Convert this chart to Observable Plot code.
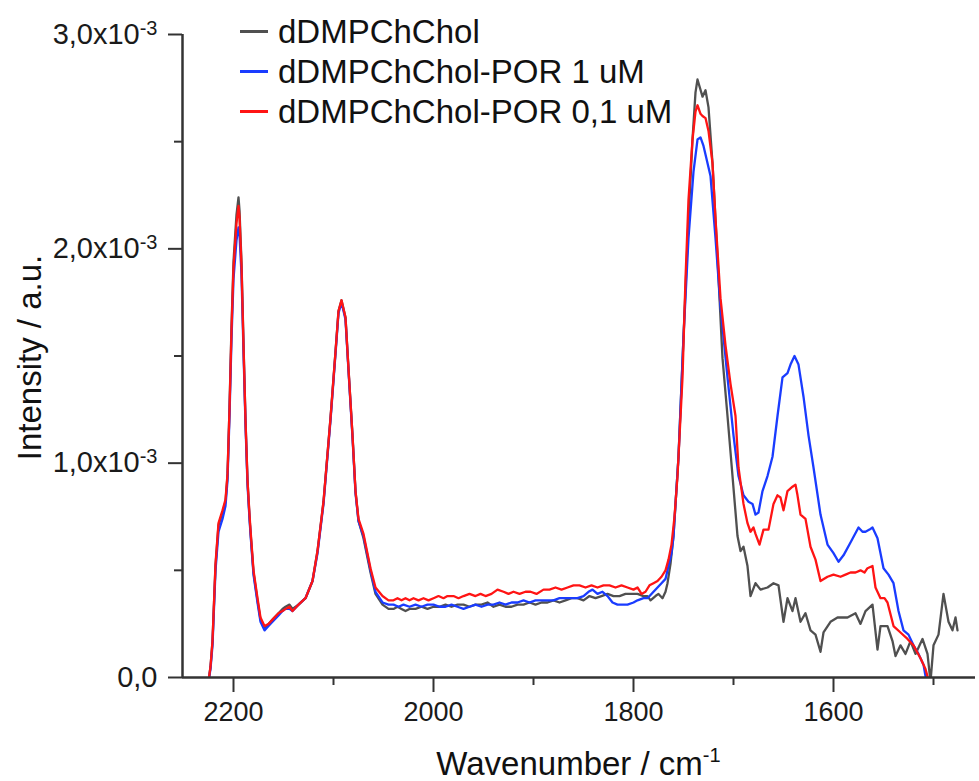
<!DOCTYPE html>
<html>
<head>
<meta charset="utf-8">
<script src="https://cdn.jsdelivr.net/npm/d3@7"></script>
<script src="https://cdn.jsdelivr.net/npm/@observablehq/plot@0.6"></script>
<style>
  body { margin: 0; background: #fff; font-family: "Liberation Sans", Arial, sans-serif; }
  #wrap { position: relative; width: 979px; height: 781px; overflow: hidden; }
  .lab { position: absolute; color: #111; white-space: nowrap; font-size: 33px; line-height: 33px; }
  .key { position: absolute; height: 2.5px; width: 28px; }
</style>
</head>
<body>
<div id="wrap"></div>
<script>
// ---------- data (intensity in units of 10^-3 a.u.) ----------
const seriesNames = ["dDMPChChol", "dDMPChChol-POR 1 uM", "dDMPChChol-POR 0,1 uM"];
const seriesColors = ["#505050", "#1a3cff", "#ff1414"];

const wnGray = [2226,2223,2221,2218,2215,2211,2208,2206,2204,2202,2200,2197,2195,2194,2192,2190,2188,2186,2184,2183,2180,2176,2173,2169,2165,2161,2155,2151,2148,2144,2141,2135,2128,2121,2116,2110,2103,2098,2095,2092,2088,2085,2081,2078,2075,2070,2063,2058,2051,2045,
  2040,2036,2032,2028,2024,2018,2012,2006,2000,1994,1988,1982,1976,1970,1964,1958,1952,1946,1940,1934,1928,1922,1916,1910,1904,1898,1892,1886,1880,1874,1868,1862,1856,1850,1844,1838,1832,1826,1820,1814,1808,1802,1796,1790,1786,1783,1778,1775,1771,1768,1766,1763,1760,
  1755,1750,1745,1741,1738,1736,1731,1728,1725,1721,1716,1711,1706,1701,1696,1693,1690,1686,1683,1678,1673,1666,1660,1655,1650,1646,1641,1638,1633,1628,1623,1618,1613,1610,1603,1596,1586,1578,1573,1568,1561,1556,1553,1546,1541,1538,1533,1528,1523,1518,1511,1506,1503,1500,1495,1490,1485,1481,1478,1476];
const intGray = [-0.05,0.05,0.17,0.52,0.71,0.77,0.82,0.94,1.26,1.64,1.94,2.16,2.24,2.18,1.94,1.56,1.20,0.92,0.75,0.68,0.49,0.36,0.27,0.23,0.25,0.27,0.30,0.32,0.33,0.34,0.32,0.34,0.37,0.45,0.59,0.82,1.21,1.52,1.71,1.76,1.68,1.44,1.13,0.87,0.73,0.65,0.49,0.39,0.34,0.32,
  0.32,0.33,0.32,0.31,0.32,0.32,0.33,0.32,0.33,0.33,0.34,0.33,0.34,0.34,0.33,0.34,0.34,0.35,0.33,0.34,0.33,0.33,0.34,0.34,0.35,0.34,0.35,0.35,0.36,0.35,0.36,0.37,0.37,0.36,0.38,0.37,0.38,0.39,0.38,0.38,0.39,0.39,0.39,0.38,0.38,0.36,0.38,0.39,0.37,0.40,0.44,0.53,0.66,
  1.03,1.59,2.14,2.51,2.73,2.79,2.71,2.74,2.66,2.40,1.96,1.49,1.22,0.94,0.66,0.59,0.61,0.52,0.38,0.44,0.41,0.42,0.44,0.43,0.26,0.37,0.31,0.37,0.26,0.30,0.22,0.20,0.12,0.21,0.26,0.28,0.28,0.30,0.25,0.31,0.34,0.13,0.24,0.24,0.17,0.10,0.15,0.11,0.17,0.11,0.18,0.11,-0.02,0.15,0.20,0.39,0.26,0.22,0.28,0.22];

const wnBlue = [2226,2223,2221,2218,2215,2211,2208,2206,2204,2202,2200,2197,2195,2194,2192,2190,2188,2186,2184,2183,2180,2176,2173,2169,2165,2161,2155,2151,2148,2144,2141,2135,2128,2121,2116,2110,2103,2098,2095,2092,2088,2085,2081,2078,2075,2070,2063,2058,2051,2045,
  2040,2035,2030,2024,2018,2012,2006,2000,1994,1988,1982,1976,1970,1964,1958,1952,1946,1940,1934,1928,1922,1916,1910,1904,1898,1892,1886,1880,1874,1868,1862,1856,1850,1845,1841,1836,1831,1826,1821,1816,1811,1806,1800,1796,1790,1786,1780,1776,1772,1768,1765,1762,1760,
  1755,1750,1745,1740,1736,1733,1730,1728,1723,1718,1713,1706,1700,1695,1690,1685,1681,1678,1675,1671,1666,1661,1656,1651,1646,1643,1639,1635,1630,1625,1620,1613,1606,1600,1595,1590,1583,1575,1571,1568,1564,1561,1556,1550,1545,1540,1535,1530,1525,1520,1515,1510,1507];
const intBlue = [-0.05,0.04,0.15,0.50,0.68,0.74,0.80,0.92,1.22,1.58,1.86,2.04,2.10,2.07,1.88,1.52,1.18,0.90,0.74,0.67,0.48,0.35,0.26,0.22,0.24,0.26,0.29,0.31,0.32,0.32,0.31,0.34,0.37,0.45,0.58,0.81,1.20,1.51,1.70,1.75,1.67,1.43,1.12,0.86,0.73,0.66,0.50,0.40,0.35,0.34,
  0.34,0.33,0.34,0.33,0.34,0.33,0.34,0.34,0.33,0.33,0.34,0.33,0.32,0.33,0.34,0.33,0.34,0.34,0.35,0.34,0.35,0.35,0.36,0.35,0.36,0.36,0.36,0.36,0.37,0.37,0.37,0.37,0.38,0.40,0.41,0.39,0.40,0.38,0.35,0.34,0.34,0.34,0.35,0.36,0.37,0.37,0.40,0.42,0.44,0.46,0.52,0.58,0.66,
  1.03,1.59,2.05,2.36,2.51,2.52,2.48,2.44,2.34,2.05,1.73,1.40,1.13,0.94,0.85,0.82,0.81,0.76,0.77,0.87,0.94,1.03,1.22,1.40,1.42,1.46,1.50,1.46,1.31,1.13,0.98,0.76,0.62,0.58,0.54,0.57,0.63,0.70,0.68,0.68,0.69,0.70,0.65,0.51,0.48,0.44,0.31,0.22,0.20,0.15,0.11,0.06,-0.02];

const wnRed = [2226,2223,2221,2218,2215,2211,2208,2206,2204,2202,2200,2197,2195,2194,2192,2190,2188,2186,2184,2183,2180,2176,2173,2169,2165,2161,2155,2151,2148,2144,2141,2135,2128,2121,2116,2110,2103,2098,2095,2092,2088,2085,2081,2078,2075,2070,2063,2058,2051,2045,
  2040,2036,2032,2028,2024,2020,2015,2010,2005,2000,1995,1990,1986,1980,1975,1970,1964,1958,1953,1948,1942,1936,1930,1925,1920,1914,1908,1903,1897,1890,1884,1878,1872,1866,1860,1854,1848,1842,1836,1830,1824,1818,1812,1806,1800,1796,1792,1788,1784,1780,1776,1772,1768,1765,1762,1759,
  1756,1751,1748,1745,1741,1738,1736,1733,1731,1728,1725,1721,1718,1713,1708,1703,1698,1695,1690,1686,1683,1680,1678,1674,1670,1665,1660,1656,1653,1650,1646,1641,1638,1636,1633,1628,1623,1618,1613,1606,1600,1593,1588,1583,1578,1573,1569,1566,1561,1558,1553,1549,1546,1540,1533,1526,1520,1513,1508,1504];
const intRed = [-0.05,0.05,0.17,0.53,0.72,0.78,0.83,0.95,1.25,1.62,1.91,2.12,2.20,2.15,1.92,1.55,1.20,0.92,0.76,0.69,0.50,0.37,0.28,0.24,0.25,0.27,0.30,0.31,0.32,0.33,0.31,0.34,0.37,0.45,0.59,0.82,1.21,1.52,1.71,1.76,1.68,1.44,1.13,0.87,0.74,0.67,0.51,0.42,0.38,0.36,
  0.36,0.37,0.36,0.37,0.36,0.37,0.36,0.37,0.36,0.37,0.38,0.37,0.38,0.38,0.37,0.38,0.39,0.38,0.39,0.38,0.39,0.41,0.40,0.39,0.40,0.39,0.40,0.40,0.39,0.41,0.41,0.42,0.41,0.42,0.43,0.43,0.42,0.43,0.42,0.43,0.43,0.42,0.43,0.42,0.41,0.42,0.39,0.40,0.43,0.44,0.45,0.47,0.50,0.55,0.62,0.75,
  0.94,1.40,1.86,2.23,2.51,2.64,2.67,2.63,2.62,2.61,2.55,2.40,2.14,1.77,1.55,1.37,1.22,0.98,0.81,0.72,0.68,0.70,0.67,0.62,0.69,0.69,0.81,0.85,0.84,0.78,0.87,0.89,0.90,0.85,0.76,0.74,0.61,0.55,0.45,0.47,0.48,0.47,0.48,0.49,0.49,0.50,0.49,0.51,0.52,0.42,0.37,0.37,0.35,0.24,0.21,0.18,0.15,0.09,0.04,-0.03];

// axes
const xDomain = [2251, 1458];
const yDomain = [0, 3];
const xMajorTicks = [2200, 2000, 1800, 1600];
const xMinorTicks = [2100, 1900, 1700, 1500];
const yMajorTicks = [0, 1, 2, 3];
const yTickLabels = ["0,0", "1,0x10⁻³", "2,0x10⁻³", "3,0x10⁻³"];
const yMinorTicks = [0.5, 1.5, 2.5];
const xLabel = "Wavenumber / cm";
const xLabelExp = "-1";
const yLabel = "Intensity / a.u.";

const toRows = (wn, vals) => wn.map((w, i) => ({wn: w, v: vals[i]}));
const series = [toRows(wnGray, intGray), toRows(wnBlue, intBlue), toRows(wnRed, intRed)];

const axisColor = "#333";
const plot = Plot.plot({
  width: 979,
  height: 781,
  marginLeft: 182,
  marginRight: 4,
  marginTop: 34,
  marginBottom: 104,
  style: {fontFamily: "'Liberation Sans', Arial, sans-serif", background: "#fff", color: "#1a1a1a", overflow: "visible"},
  x: {domain: xDomain},
  y: {domain: yDomain},
  marks: [
    ...series.map((rows, i) => Plot.line(rows, {x: "wn", y: "v", stroke: seriesColors[i], strokeWidth: 2.3, clip: true})),
    Plot.ruleX([xDomain[0]], {stroke: axisColor, strokeWidth: 2.5}),
    Plot.ruleY([yDomain[0]], {stroke: axisColor, strokeWidth: 2.5}),
    Plot.axisX(xMajorTicks, {tickSize: 15, tickPadding: 9, fontSize: 27, stroke: axisColor, strokeWidth: 2, tickFormat: d => String(d), label: null}),
    Plot.axisX(xMinorTicks, {tickSize: 8, stroke: axisColor, strokeWidth: 2, tickFormat: () => "", label: null}),
    Plot.axisY(yMajorTicks, {tickSize: 14, tickPadding: 11, fontSize: 29, stroke: axisColor, strokeWidth: 2, tickFormat: d => yTickLabels[yMajorTicks.indexOf(d)], label: null}),
    Plot.axisY(yMinorTicks, {tickSize: 8, stroke: axisColor, strokeWidth: 2, tickFormat: () => "", label: null})
  ]
});

// turn the "⁻³" exponent into a raised smaller tspan
plot.querySelectorAll("text").forEach(t => {
  const s = t.textContent;
  if (s.includes("⁻³")) {
    const base = s.replace("⁻³", "");
    t.textContent = "";
    const ns = "http://www.w3.org/2000/svg";
    const a = document.createElementNS(ns, "tspan"); a.textContent = base; t.appendChild(a);
    const b = document.createElementNS(ns, "tspan"); b.textContent = "-3";
    b.setAttribute("dy", "-0.45em"); b.setAttribute("font-size", "20"); t.appendChild(b);
  }
});

const wrap = document.getElementById("wrap");
wrap.appendChild(plot);
plot.style.position = "absolute"; plot.style.left = "0"; plot.style.top = "0";

// axis titles
const xl = document.createElement("div");
xl.className = "lab";
xl.style.left = "182px"; xl.style.width = "793px"; xl.style.top = "747px"; xl.style.textAlign = "center";
xl.innerHTML = `${xLabel}<span style="font-size:20px;position:relative;top:-13px">${xLabelExp}</span>`;
wrap.appendChild(xl);

const yl = document.createElement("div");
yl.className = "lab";
yl.textContent = yLabel;
yl.style.left = "-171px"; yl.style.top = "341px"; yl.style.width = "400px"; yl.style.height = "33px";
yl.style.textAlign = "center"; yl.style.transform = "rotate(-90deg)";
wrap.appendChild(yl);

// legend
const keyY = [31, 71, 111];
seriesNames.forEach((name, i) => {
  const k = document.createElement("div");
  k.className = "key";
  k.style.left = "240px"; k.style.top = (keyY[i] - 1) + "px"; k.style.background = seriesColors[i];
  wrap.appendChild(k);
  const t = document.createElement("div");
  t.className = "lab";
  t.style.left = "278px"; t.style.top = (keyY[i] - 16) + "px";
  t.textContent = name;
  wrap.appendChild(t);
});
</script>
</body>
</html>
